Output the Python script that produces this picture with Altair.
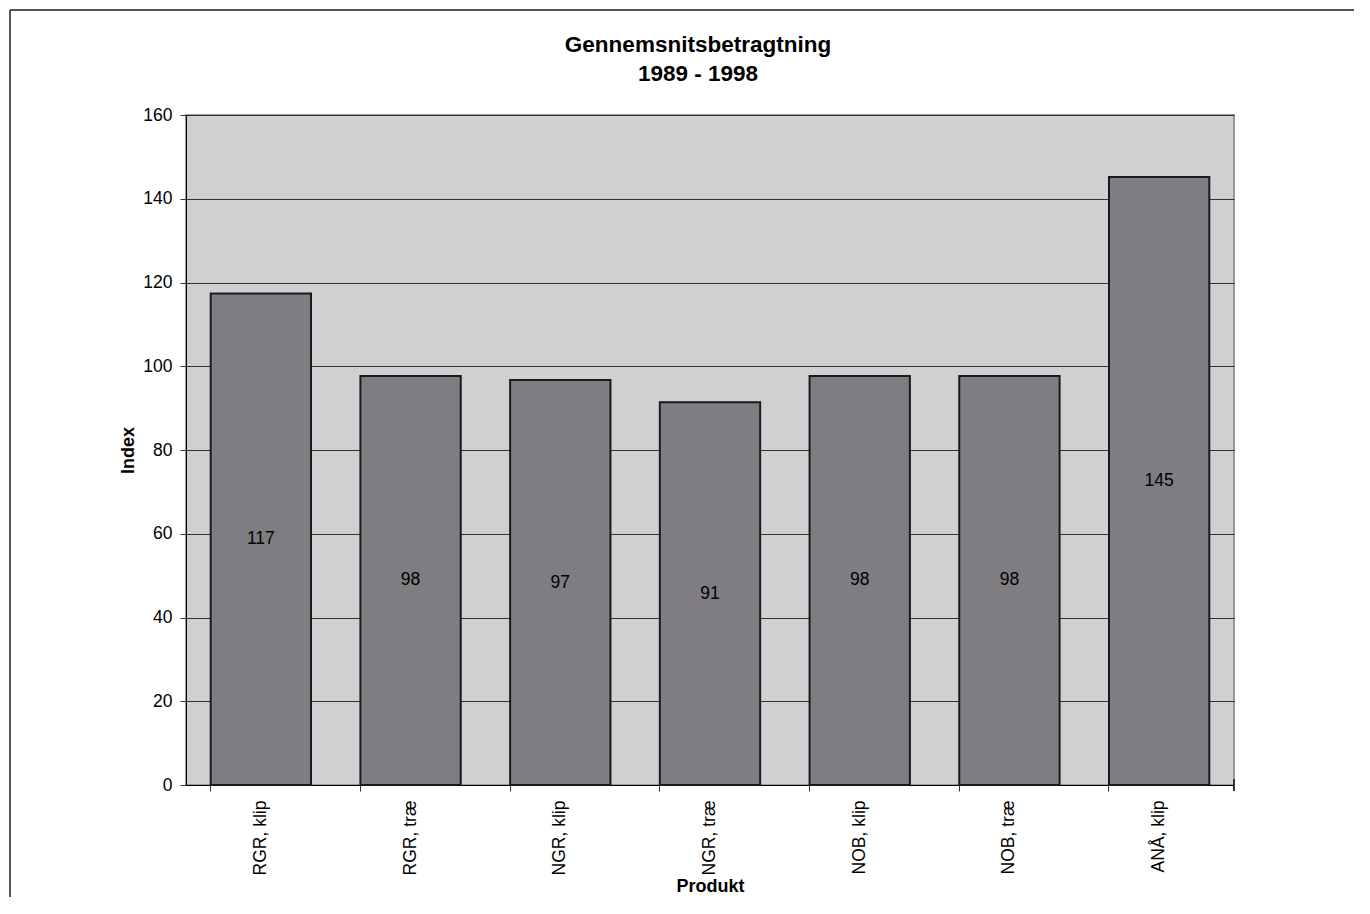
import altair as alt
import pandas as pd

title_lines = ["Gennemsnitsbetragtning", "1989 - 1998"]
categories = ["RGR, klip", "RGR, træ", "NGR, klip", "NGR, træ", "NOB, klip", "NOB, træ", "ANÅ, klip"]
values = [117.4, 97.7, 96.7, 91.4, 97.7, 97.7, 145.2]

df = pd.DataFrame({"Produkt": categories, "Index": values})
df["half"] = df["Index"] / 2
tdf = pd.DataFrame({"line": title_lines, "i": [0, 1]})

FONT = "Liberation Sans"
W, H = 1048, 670

x_enc = alt.X("Produkt:N", sort=categories, title="Produkt",
              scale=alt.Scale(paddingInner=0.33, paddingOuter=0.165),
              axis=alt.Axis(labelAngle=-90, bandPosition=0, tickSize=6, labelPadding=9,
                            labelFontSize=17.5, labelFont=FONT, labelColor="black",
                            titleFontSize=18, titleFont=FONT, titleFontWeight="bold",
                            titleColor="black", titlePadding=3, domainColor="black",
                            tickColor="#333", grid=False))

bars = alt.Chart(df).mark_bar(color="#807d82", stroke="#1a1a1a", strokeWidth=2).encode(
    x=x_enc,
    y=alt.Y("Index:Q", title="Index",
            scale=alt.Scale(domain=[0, 160], nice=False),
            axis=alt.Axis(values=list(range(0, 161, 20)), tickSize=6, labelPadding=8,
                          labelFontSize=17.5, labelFont=FONT, labelColor="black",
                          titleFontSize=18, titleFont=FONT, titleFontWeight="bold",
                          titleColor="black", titlePadding=5, domainColor="black",
                          tickColor="#333", grid=True, gridColor="#333333", gridWidth=1)),
)

labels = alt.Chart(df).mark_text(fontSize=17.5, font=FONT, color="black").encode(
    x=alt.X("Produkt:N", sort=categories),
    y=alt.Y("half:Q"),
    text=alt.Text("Index:Q", format=".0f"),
)

def title_line(i, ypos):
    return alt.Chart(tdf).transform_filter(alt.datum.i == i).mark_text(
        fontSize=22.5, font=FONT, fontWeight="bold", color="black",
        baseline="middle", align="center").encode(
        x=alt.value(512), y=alt.value(ypos), text="line:N")

end_tick = alt.Chart(df).mark_rule(color="#333").encode(
    x=alt.value(W), y=alt.value(H - 6), y2=alt.value(H + 6)
)
border_left = alt.Chart(df).mark_rule(color="#555", strokeWidth=1.5).encode(
    x=alt.value(-176), y=alt.value(-105), y2=alt.value(H + 200)
)
border_top = alt.Chart(df).mark_rule(color="#555", strokeWidth=1.5).encode(
    x=alt.value(-176), x2=alt.value(W + 300), y=alt.value(-105)
)

chart = alt.layer(bars, labels, title_line(0, -70), title_line(1, -41),
                  end_tick, border_left, border_top).properties(
    width=W, height=H,
    background="white",
    autosize=alt.AutoSizeParams(type="none"),
    padding={"left": 178, "top": 107, "right": 120, "bottom": 112},
).configure_view(fill="#cfd0d2", stroke="#9a9a9a", strokeWidth=2)

chart.save("out.html", embed_options={"renderer": "svg", "actions": False})
